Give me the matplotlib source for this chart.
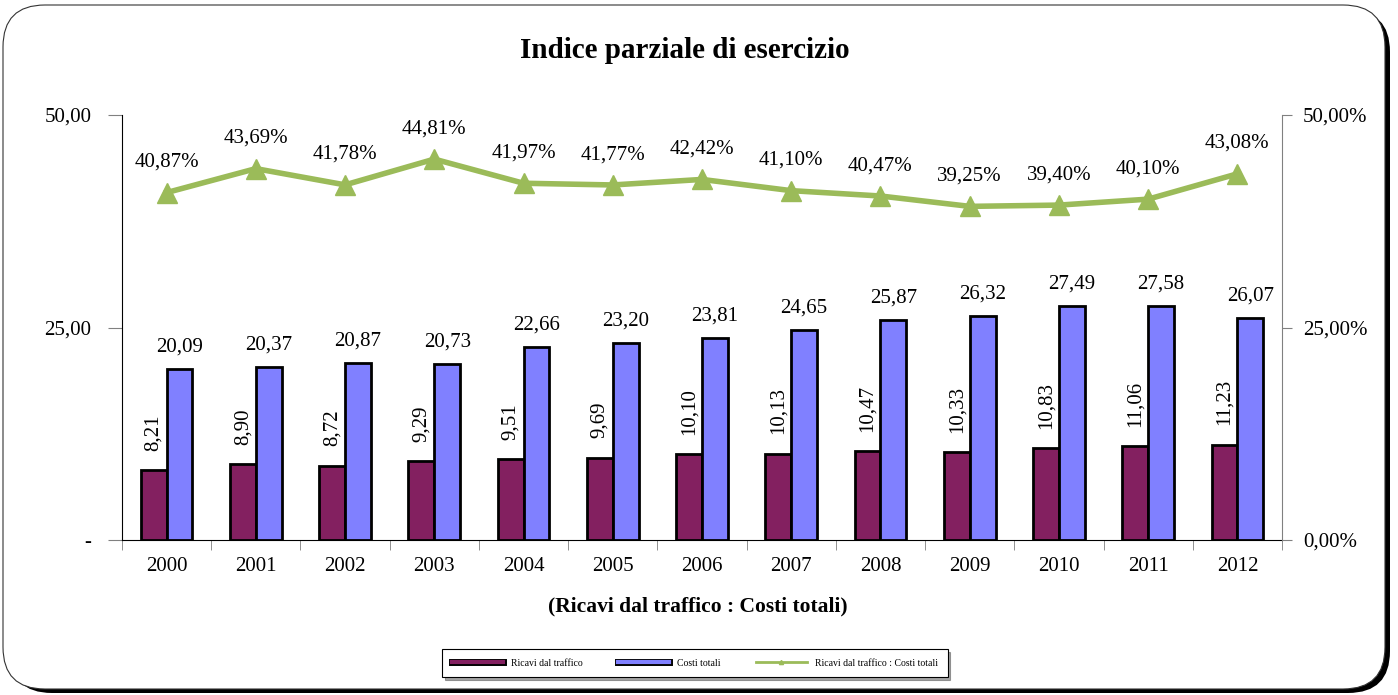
import matplotlib
matplotlib.use("Agg")
import matplotlib.pyplot as plt
import matplotlib.patheffects as pe
import numpy as np
from matplotlib.patches import FancyBboxPatch
from matplotlib.lines import Line2D

# ---------------------------------------------------------------------------
# Data
# ---------------------------------------------------------------------------
years = ["2000", "2001", "2002", "2003", "2004", "2005", "2006",
         "2007", "2008", "2009", "2010", "2011", "2012"]
ricavi = [8.21, 8.90, 8.72, 9.29, 9.51, 9.69, 10.10, 10.13, 10.47, 10.33, 10.83, 11.06, 11.23]
costi = [20.09, 20.37, 20.87, 20.73, 22.66, 23.20, 23.81, 24.65, 25.87, 26.32, 27.49, 27.58, 26.07]
indice = [40.87, 43.69, 41.78, 44.81, 41.97, 41.77, 42.42, 41.10, 40.47, 39.25, 39.40, 40.10, 43.08]

left_ticks = [0, 25, 50]
right_ticks = [0, 25, 50]

C_RED = "#832060"
C_BLUE = "#8080FF"
C_GREEN = "#9BBB59"
FS = 15


def it(v, suffix=""):
    return f"{v:.2f}".replace(".", ",") + suffix


plt.rcParams["font.family"] = ["Liberation Serif", "DejaVu Serif"]

W, H = 1398, 695
fig = plt.figure(figsize=(W / 100, H / 100), dpi=100)

# rounded frame with shadow
shadow = FancyBboxPatch((10 / W, 2 / H), 1380 / W, 683 / H,
                        boxstyle="round,pad=0,rounding_size=0.03",
                        transform=fig.transFigure, facecolor="black",
                        edgecolor="none", zorder=-2, mutation_aspect=W / H)
frame = FancyBboxPatch((3 / W, 6 / H), 1382 / W, 684 / H,
                       boxstyle="round,pad=0,rounding_size=0.03",
                       transform=fig.transFigure, facecolor="white",
                       edgecolor="#333333", lw=0.8, zorder=-1, mutation_aspect=W / H)
fig.patches.extend([shadow, frame])

ax = fig.add_axes([122 / W, 1 - 540 / H, 1160 / W, 425 / H])
ax.patch.set_alpha(0)
x = np.arange(len(years))
bw = 0.29

ax.bar(x - bw / 2, ricavi, bw, color=C_RED, edgecolor="black", lw=2, zorder=3)
ax.bar(x + bw / 2, costi, bw, color=C_BLUE, edgecolor="black", lw=2, zorder=3)

for xi, v in zip(x, ricavi):
    ax.annotate(it(v), (xi - bw / 2, v), xytext=(0, 14), textcoords="offset points",
                rotation=90, ha="center", va="bottom", fontsize=FS)
for xi, v in zip(x, costi):
    ax.annotate(it(v), (xi + bw / 2, v), xytext=(0, 9), textcoords="offset points",
                ha="center", va="bottom", fontsize=FS)

ax.set_xlim(-0.5, len(years) - 0.5)
ax.set_ylim(0, 50)
ax.set_yticks(left_ticks)
ax.set_yticklabels(["-" if t == 0 else it(t) for t in left_ticks], fontsize=FS)
ax.set_xticks(x)
ax.set_xticklabels(years, fontsize=FS)
ax.set_xticks(np.arange(-0.5, len(years), 1), minor=True)
ax.tick_params(axis="x", which="major", length=0, pad=12)
ax.tick_params(axis="x", which="minor", length=7, color="#808080", direction="out")
ax.tick_params(axis="y", length=10, color="#808080", direction="out", pad=12)
for s in ["top", "right"]:
    ax.spines[s].set_visible(False)
ax.spines["left"].set_color("black")
ax.spines["bottom"].set_color("black")

ax2 = ax.twinx()
ax2.plot(x, indice, color=C_GREEN, lw=4, marker="^", markersize=15, zorder=4)
for xi, v in zip(x, indice):
    ax2.annotate(it(v, "%"), (xi, v), xytext=(0, 15), textcoords="offset points",
                 ha="center", va="bottom", fontsize=FS)
ax2.set_ylim(0, 50)
ax2.set_yticks(right_ticks)
ax2.set_yticklabels([it(t, "%") for t in right_ticks], fontsize=FS)
ax2.tick_params(axis="y", length=7, color="#808080", direction="out", pad=8)
for s in ["top", "left", "bottom"]:
    ax2.spines[s].set_visible(False)
ax2.spines["right"].set_color("#808080")

fig.text(0.49, 0.928, "Indice parziale di esercizio", ha="center", va="center",
         fontsize=21, fontweight="bold")
fig.text(0.499, 0.127, "(Ricavi dal traffico : Costi totali)", ha="center", va="center",
         fontsize=15.5, fontweight="bold")

handles = [
    Line2D([], [], color=C_RED, lw=3),
    Line2D([], [], color=C_BLUE, lw=3),
    Line2D([], [], color=C_GREEN, lw=2, marker="^", markersize=3),
]
handles[0].set_path_effects([pe.Stroke(linewidth=5, foreground="black"), pe.Normal()])
handles[1].set_path_effects([pe.Stroke(linewidth=5, foreground="black"), pe.Normal()])
leg = fig.legend(handles, ["Ricavi dal traffico", "Costi totali", "Ricavi dal traffico : Costi totali"],
                 loc="center", bbox_to_anchor=(0.497, 0.046), ncol=3, fontsize=7,
                 frameon=True, fancybox=False, shadow=True, edgecolor="black",
                 handlelength=5.3, columnspacing=3.6, borderpad=1.0, handletextpad=0.8,
                 borderaxespad=0)
leg.get_frame().set_linewidth(0.8)

fig.savefig("out.png", dpi=100)
